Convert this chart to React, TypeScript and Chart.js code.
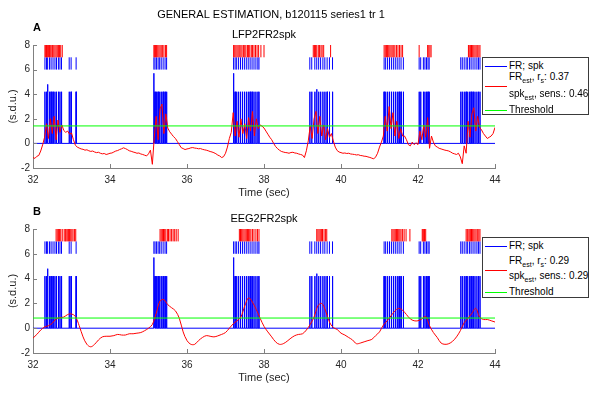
import React, { useEffect, useRef } from "react";
import { Chart, registerables } from "chart.js";
Chart.register(...registerables);

const FONT = "'Liberation Sans', Arial, Helvetica, sans-serif";
const AXIS_COLOR = "#808080";
const TEXT_COLOR = "#262626";

const X_MIN = 32;
const X_MAX = 44;
const Y_MIN = -2;
const Y_MAX = 8;
const X_TICKS = [32, 34, 36, 38, 40, 42, 44];
const Y_TICKS = [-2, 0, 2, 4, 6, 8];

const MAIN_TITLE = "GENERAL ESTIMATION, b120115 series1 tr 1";
const PANEL_LABELS = ["A", "B"];
const PANEL_TITLES = ["LFP2FR2spk", "EEG2FR2spk"];
const X_LABEL = "Time (sec)";
const Y_LABEL = "(s.d.u.)";

// recorded spikes (shared by both panels)
const SPIKE_TIMES = [
  32.31, 32.35, 32.38, 32.43, 32.47, 32.52, 32.57, 32.61, 32.66, 32.70, 32.74, 32.94, 32.99, 33.12,
  35.14, 35.17, 35.21, 35.25, 35.29, 35.33, 35.38, 35.43, 35.47,
  37.21, 37.25, 37.29, 37.34, 37.39, 37.44, 37.49, 37.54, 37.59, 37.64, 37.69, 37.74, 37.79, 37.84, 37.87,
  39.19, 39.24, 39.32, 39.37, 39.42, 39.47, 39.53, 39.58, 39.64, 39.70, 39.78,
  41.12, 41.16, 41.21, 41.26, 41.31, 41.36, 41.41, 41.46, 41.51, 41.56, 41.62,
  42.03, 42.07, 42.14, 42.18, 42.22, 42.26, 42.29,
  43.11, 43.15, 43.20, 43.25, 43.29, 43.34, 43.38, 43.43, 43.48, 43.53, 43.57, 43.61,
];
const FR_BASE_HEIGHT = 4.2;
const FR_TALL_TIMES = [32.38, 35.14, 37.21, 39.37];
const FR_TALL_VALUES = [4.8, 5.7, 5.7, 4.4];

// estimated spikes
const EST_SPIKES_A = [
  32.31, 32.33, 32.35, 32.38, 32.40, 32.43, 32.46, 32.49, 32.51, 32.54, 32.57, 32.60, 32.63, 32.66, 32.69, 32.72, 32.76,
  35.14, 35.16, 35.18, 35.21, 35.24, 35.27, 35.30, 35.33, 35.36, 35.40, 35.44, 35.47,
  37.21, 37.24, 37.27, 37.30, 37.33, 37.37, 37.40, 37.43, 37.47, 37.50, 37.53, 37.57, 37.60, 37.63, 37.67, 37.70, 37.74, 37.78, 37.82, 37.86, 37.92, 38.00,
  39.28, 39.31, 39.34, 39.37, 39.41, 39.44, 39.48, 39.51, 39.55, 39.73,
  41.12, 41.15, 41.18, 41.21, 41.24, 41.27, 41.30, 41.33, 41.37, 41.40, 41.44, 41.48, 41.52, 41.56, 41.60,
  42.03, 42.25, 42.28, 42.31, 42.34,
  43.31, 43.33, 43.36, 43.39, 43.42, 43.45, 43.48, 43.51, 43.54, 43.58, 43.61,
];
const EST_SPIKES_B = [
  32.60, 32.63, 32.66, 32.69, 32.72, 32.76,
  32.81, 32.84, 32.86, 32.89, 32.92, 32.95, 32.98, 33.01, 33.04, 33.08, 33.11,
  35.30, 35.33, 35.36, 35.39, 35.42, 35.45, 35.49, 35.52, 35.56, 35.60, 35.64, 35.68, 35.72, 35.77,
  37.36, 37.39, 37.42, 37.45, 37.48, 37.51, 37.54, 37.57, 37.60, 37.63, 37.66, 37.70, 37.74, 37.79, 37.83, 37.87,
  39.37, 39.40, 39.43, 39.46, 39.49, 39.52, 39.56, 39.60, 39.63,
  41.32, 41.35, 41.38, 41.41, 41.44, 41.47, 41.50, 41.53, 41.56, 41.60, 41.64, 41.69, 41.79,
  42.11, 42.13, 42.15, 42.17, 42.20,
  43.25, 43.28, 43.30, 43.33, 43.36, 43.39, 43.42, 43.45, 43.48, 43.51, 43.55, 43.58, 43.61,
];

// estimated firing rate, panel A (sampled every 0.05 s from 32 s)
const EST_A_STEP = 0.05;
const EST_A = [
  -1.15, -1.22, -1.05, -0.98, -0.62, -0.12, 0.5, 1.6, 0.4, 2.0, 0.8, 2.2, 0.3, 1.9, 0.9, 1.5, 1.05, 0.9, 1.0, 0.75,
  0.85, 0.3, -0.15, -0.3, -0.38, -0.45, -0.48, -0.55, -0.52, -0.6, -0.65, -0.62, -0.7, -0.75, -0.72, -0.8, -0.85, -0.82, -0.9, -0.86,
  -0.8, -0.78, -0.7, -0.62, -0.58, -0.5, -0.44, -0.36, -0.42, -0.5, -0.6, -0.64, -0.7, -0.74, -0.8, -0.78, -0.86, -0.9, -0.96, -1.02,
  -0.85, -0.55, -1.7, 0.5, 2.2, 0.3, 2.8, 3.2, 0.8, 2.4, 1.25, 0.95, 0.75, 0.55, 0.4, 0.15, -0.1, -0.35, -0.42, -0.5,
  -0.45, -0.42, -0.36, -0.34, -0.38, -0.4, -0.44, -0.42, -0.48, -0.52, -0.55, -0.6, -0.66, -0.7, -0.76, -0.84, -0.95, -1.02, -1.15, -1.08,
  -0.8, -0.3, 0.4, 0.9, 2.5, 0.6, 1.8, 0.5, 2.0, 0.8, 1.6, 0.4, 2.1, 1.0, 2.6, 0.6, 2.0, 1.2, 1.5, 1.4,
  1.25, 1.0, 0.75, 0.5, 0.3, 0.0, -0.25, -0.42, -0.55, -0.65, -0.7, -0.74, -0.76, -0.8, -0.74, -0.72, -0.78, -0.8, -0.86, -0.9,
  -0.95, -1.15, -0.6, 0.2, 1.4, 0.4, 2.0, 2.6, 0.8, 2.2, 0.6, 1.5, 0.3, 1.2, 0.5, 0.8, 0.2, -0.3, -0.58, -0.7,
  -0.75, -0.8, -0.78, -0.82, -0.8, -0.86, -0.88, -0.9, -0.94, -0.92, -0.98, -1.0, -1.04, -1.05, -1.1, -1.14, -1.2, -1.26, -1.1, -0.8,
  -0.3, 0.1, 0.6, 2.2, 1.0, 3.0, 1.2, 2.5, 0.6, 1.8, 0.4, 1.2, 0.6, 0.6, 0.3, -0.1, -0.2, 0.1, -0.1, 0.05,
  -0.1, 1.0, 0.3, 1.5, 0.5, 2.1, -0.4, 0.6, 0.1, -0.2, -0.3, -0.4, -0.45, -0.5, -0.55, -0.58, -0.62, -0.7, -0.8, -0.85,
  -0.9, -0.8, -1.1, -1.65, -0.2, -0.8, 1.8, 0.5, 2.4, 2.9, 1.0, 2.2, 1.3, 1.1, 0.8, 0.6, 0.4, 0.5, 0.6, 0.8,
  1.3,
];

// estimated firing rate, panel B (sampled every 0.1 s from 32 s)
const EST_B_STEP = 0.1;
const EST_B = [
  -0.8, -0.5, -0.15, 0.1, 0.2, 0.4, 0.75, 0.85, 0.9, 1.1,
  1.15, 0.95, 0.2, -0.7, -1.3, -1.5, -1.3, -0.95, -0.7, -0.65,
  -0.65, -0.6, -0.5, -0.55, -0.55, -0.45, -0.45, -0.4, -0.35, -0.2,
  0.0, 0.3, 1.2, 2.2, 2.3, 1.9, 1.65, 1.4, 0.8, -0.3,
  -1.0, -1.3, -1.3, -1.0, -0.75, -0.6, -0.65, -0.7, -0.62, -0.5,
  -0.35, 0.0, 0.35, 0.6, 0.9, 1.8, 2.45, 2.1, 1.5, 0.8,
  0.15, -0.3, -0.7, -1.1, -1.3, -1.25, -1.05, -0.8, -0.6, -0.5,
  -0.45, -0.15, 0.3, 0.9, 1.8, 2.0, 1.4, 0.5, 0.05, -0.1,
  -0.4, -0.55, -0.75, -0.95, -1.25, -1.2, -1.1, -1.0, -0.9, -0.6,
  -0.3, 0.25, 0.6, 1.0, 1.4, 1.6, 1.45, 1.1, 0.75, 0.6,
  0.6, 0.75, 0.95, 0.2, -0.35, -0.75, -1.2, -1.3, -1.25, -1.05,
  -0.7, -0.2, 0.45, 0.8, 1.2, 1.6, 0.9, 0.7, 0.7, 0.6,
  0.5,
];

const THRESHOLDS = [1.42, 0.82];
const RS_VALUES = [0.37, 0.29];
const SENS_VALUES = [0.46, 0.29];
const RASTER_SPK = [6, 7];
const RASTER_EST = [7, 8];

const BLUE = "#0000ff";
const RED = "#ff0000";
const GREEN = "#00ff00";

type P = { x: number; y: number | null };

function frPoints(): P[] {
  const pts: P[] = [{ x: X_MIN, y: 0 }];
  const hw = 0.004;
  SPIKE_TIMES.forEach((t) => {
    const k = FR_TALL_TIMES.indexOf(t);
    const h = k >= 0 ? FR_TALL_VALUES[k] : FR_BASE_HEIGHT;
    pts.push({ x: t - hw, y: 0 }, { x: t, y: h }, { x: t + hw, y: 0 });
  });
  pts.push({ x: X_MAX, y: 0 });
  return pts;
}

function rasterPoints(times: number[], range: number[]): P[] {
  const pts: P[] = [];
  times.forEach((t) => {
    pts.push({ x: t, y: range[0] }, { x: t, y: range[1] }, { x: t, y: null });
  });
  return pts;
}

function seriesPoints(vals: number[], step: number): P[] {
  return vals.map((v, i) => ({ x: X_MIN + i * step, y: v }));
}

type Layout = {
  top: number;
  bottom: number;
  index: number;
};

const CHART_LEFT = 33;
const CHART_RIGHT = 495;
const W = 591;
const H = 394;
const X_AXIS_H = 20;

const LAYOUTS: Layout[] = [
  { top: 45, bottom: 168, index: 0 },
  { top: 229, bottom: 353, index: 1 },
];

function makeDecor(l: Layout) {
  return {
    id: "decor" + l.index,
    afterDraw(chart: any) {
      const { ctx, chartArea: a, scales } = chart;
      ctx.save();
      ctx.strokeStyle = AXIS_COLOR;
      ctx.lineWidth = 1;
      ctx.beginPath();
      X_TICKS.forEach((v) => {
        const px = Math.round(scales.x.getPixelForValue(v)) + 0.5;
        ctx.moveTo(px, a.bottom);
        ctx.lineTo(px, a.bottom - 4);
      });
      Y_TICKS.forEach((v) => {
        const py = Math.round(scales.y.getPixelForValue(v)) + 0.5;
        ctx.moveTo(a.left, py);
        ctx.lineTo(a.left + 4, py);
      });
      ctx.stroke();

      ctx.fillStyle = "#000";
      ctx.textAlign = "center";
      ctx.textBaseline = "middle";
      const cx = (a.left + a.right) / 2;
      if (l.index === 0) {
        ctx.font = `11px ${FONT}`;
        ctx.fillText(MAIN_TITLE, 271, 15);
      }
      ctx.font = `bold 11px ${FONT}`;
      ctx.fillText(PANEL_LABELS[l.index], 37, l.top - 17);
      ctx.font = `11px ${FONT}`;
      ctx.fillText(PANEL_TITLES[l.index], cx, l.top - 10);
      ctx.fillStyle = TEXT_COLOR;
      ctx.fillText(X_LABEL, cx, l.bottom + 25);
      ctx.translate(12.5, (a.top + a.bottom) / 2);
      ctx.rotate(-Math.PI / 2);
      ctx.fillText(Y_LABEL, 0, 0);
      ctx.restore();
    },
  };
}

function PanelChart({ layout }: { layout: Layout }) {
  const ref = useRef<HTMLCanvasElement | null>(null);
  useEffect(() => {
    if (!ref.current) return;
    const i = layout.index;
    const est = i === 0 ? seriesPoints(EST_A, EST_A_STEP) : seriesPoints(EST_B, EST_B_STEP);
    const estSpikes = i === 0 ? EST_SPIKES_A : EST_SPIKES_B;
    const thr = THRESHOLDS[i];
    const common = { pointRadius: 0, borderWidth: 1, fill: false, tension: 0 };
    const chart = new Chart(ref.current, {
      type: "line",
      data: {
        datasets: [
          { ...common, label: "Threshold", data: [{ x: X_MIN, y: thr }, { x: X_MAX, y: thr }], borderColor: GREEN },
          { ...common, label: "FR est", data: est, borderColor: RED, tension: i === 1 ? 0.35 : 0 },
          { ...common, label: "spk est", data: rasterPoints(estSpikes, RASTER_EST), borderColor: RED, spanGaps: false },
          { ...common, label: "spk", data: rasterPoints(SPIKE_TIMES, RASTER_SPK), borderColor: BLUE, spanGaps: false },
          { ...common, label: "FR", data: frPoints(), borderColor: BLUE },
        ],
      } as any,
      options: {
        animation: false,
        responsive: false,
        events: [],
        layout: {
          padding: { top: layout.top, left: 0, right: W - CHART_RIGHT, bottom: H - layout.bottom - X_AXIS_H },
        },
        plugins: { legend: { display: false }, tooltip: { enabled: false }, title: { display: false } },
        scales: {
          x: {
            type: "linear",
            min: X_MIN,
            max: X_MAX,
            afterFit: (s: any) => {
              s.height = X_AXIS_H;
            },
            afterBuildTicks: (s: any) => {
              s.ticks = X_TICKS.map((v) => ({ value: v }));
            },
            grid: { display: false, drawTicks: false },
            border: { display: true, color: AXIS_COLOR, width: 1 },
            ticks: { padding: 6, color: TEXT_COLOR, font: { family: FONT, size: 10 }, maxRotation: 0 },
          },
          y: {
            type: "linear",
            min: Y_MIN,
            max: Y_MAX,
            afterFit: (s: any) => {
              s.width = CHART_LEFT;
            },
            afterBuildTicks: (s: any) => {
              s.ticks = Y_TICKS.map((v) => ({ value: v }));
            },
            grid: { display: false, drawTicks: false },
            border: { display: true, color: AXIS_COLOR, width: 1 },
            ticks: { padding: 3, color: TEXT_COLOR, font: { family: FONT, size: 10 } },
          },
        },
      } as any,
      plugins: [makeDecor(layout)],
    });
    return () => chart.destroy();
  }, [layout]);
  return (
    <canvas
      ref={ref}
      width={W}
      height={H}
      style={{ position: "absolute", left: 0, top: 0, width: W, height: H }}
    />
  );
}

type LegendSpec = {
  top: number;
  height: number;
  rows: number[]; // centers of the 4 text rows, relative to box top
  redLine: number;
  index: number;
};

const LEGENDS: LegendSpec[] = [
  { top: 57, height: 58, rows: [8, 19, 36, 52], redLine: 28, index: 0 },
  { top: 237, height: 61, rows: [8, 23, 38, 54], redLine: 32, index: 1 },
];

function Sub({ children }: { children: React.ReactNode }) {
  return (
    <span style={{ fontSize: "7px", position: "relative", top: "3px" }}>{children}</span>
  );
}

function Legend({ spec }: { spec: LegendSpec }) {
  const rowStyle = (c: number): React.CSSProperties => ({
    position: "absolute",
    left: 26,
    top: c - 6,
    height: 12,
    lineHeight: "12px",
    fontSize: "10px",
    fontFamily: FONT,
    color: "#000",
    whiteSpace: "nowrap",
  });
  const lineStyle = (c: number, color: string): React.CSSProperties => ({
    position: "absolute",
    left: 2,
    width: 22,
    top: c,
    height: 1,
    backgroundColor: color,
  });
  const i = spec.index;
  return (
    <div
      style={{
        position: "absolute",
        left: 482,
        top: spec.top,
        width: 107,
        height: spec.height,
        boxSizing: "border-box",
        border: "1px solid #3a3a3a",
        backgroundColor: "#fff",
      }}
    >
      <div style={lineStyle(spec.rows[0], BLUE)} />
      <div style={rowStyle(spec.rows[0])}>FR; spk</div>
      <div style={lineStyle(spec.redLine, RED)} />
      <div style={rowStyle(spec.rows[1])}>
        FR<Sub>est</Sub>, r<Sub>s</Sub>: {RS_VALUES[i].toFixed(2)}
      </div>
      <div style={rowStyle(spec.rows[2])}>
        spk<Sub>est</Sub>, sens.: {SENS_VALUES[i].toFixed(2)}
      </div>
      <div style={lineStyle(spec.rows[3], GREEN)} />
      <div style={rowStyle(spec.rows[3])}>Threshold</div>
    </div>
  );
}

export default function App() {
  return (
    <div
      style={{
        position: "absolute",
        left: 0,
        top: 0,
        width: W,
        height: H,
        backgroundColor: "#fff",
        overflow: "hidden",
      }}
    >
      {LAYOUTS.map((l) => (
        <PanelChart key={l.index} layout={l} />
      ))}
      {LEGENDS.map((s) => (
        <Legend key={s.index} spec={s} />
      ))}
    </div>
  );
}
